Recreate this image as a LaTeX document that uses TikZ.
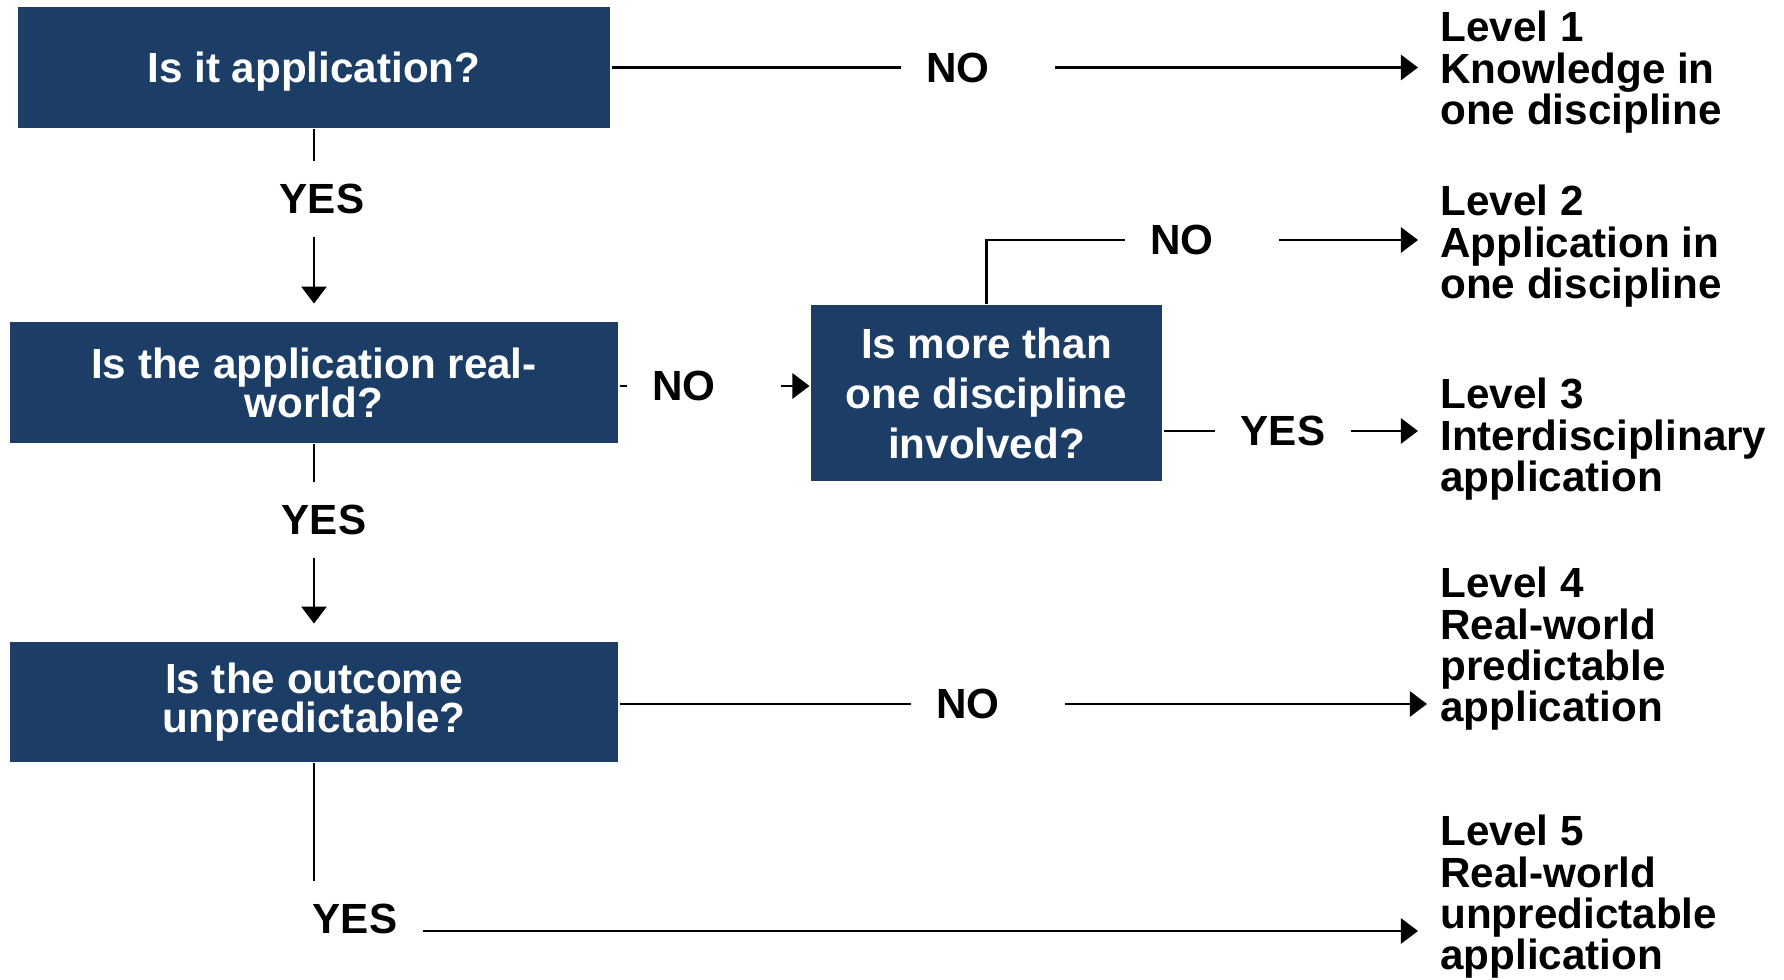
\documentclass[tikz,border=0pt]{standalone}
\usepackage{fontspec}
\setmainfont{Liberation Sans}
\usetikzlibrary{arrows.meta}
\definecolor{boxblue}{RGB}{28,61,102}
\setlength{\lineskiplimit}{-10pt}

\begin{document}
\begin{tikzpicture}
        [
            x=0.01cm, y=-0.01cm,
            line width=0.8pt,
            question/.style={fill=boxblue, text=white, font=\bfseries\fontsize{12}{11.1}\selectfont, align=center, inner sep=0pt},
            answer/.style={font=\bfseries\fontsize{12}{14}\selectfont, inner xsep=0.24cm, inner ysep=0.22cm},
            outcome/.style={font=\bfseries\fontsize{12}{11.7}\selectfont, align=left, anchor=north west, inner sep=0pt},
            flow/.style={-{Triangle[length=0.17cm,width=0.25cm]}},
            gap/.style={shorten <=0.4cm}
        ]

        \useasboundingbox (0,0) rectangle (1784,980);

        % questions
        \node[question, minimum width=5.92cm, minimum height=1.21cm, text depth=0pt] (q1) at (314,67.5) {Is it application?};
        \node[question, minimum width=6.08cm, minimum height=1.21cm] (q2) at (314,382.5) {Is the application real-\\world?};
        \node[question, minimum width=6.08cm, minimum height=1.20cm] (q3) at (314,702) {Is the outcome\\unpredictable?};
        \node[question, minimum width=3.51cm, minimum height=1.76cm, font=\bfseries\fontsize{12}{14.2}\selectfont] (q4) at (986.5,393) {Is more than\\one discipline\\involved?};

        % answers
        \node[answer] (no1) at (958,67.5) {NO};
        \node[answer] (yes1) at (322,199) {YES};
        \node[answer] (no2) at (684,386) {NO};
        \node[answer] (yes2) at (324,520) {YES};
        \node[answer] (no3) at (968,704) {NO};
        \node[answer, text height=0.3cm, text depth=0.24cm] (yes3) at (355,931) {YES};
        \node[answer] (no4) at (1182,240) {NO};
        \node[answer] (yes4) at (1283,431) {YES};

        % levels
        \node[outcome] (lvl1) at (1439,10) {Level 1\\Knowledge in\\one discipline};
        \node[outcome] (lvl2) at (1439,184) {Level 2\\Application in\\one discipline};
        \node[outcome] (lvl3) at (1439,377) {Level 3\\Interdisciplinary\\application};
        \node[outcome] (lvl4) at (1439,566) {Level 4\\Real-world\\predictable\\application};
        \node[outcome] (lvl5) at (1439,814) {Level 5\\Real-world\\unpredictable\\application};

        \draw (q1) -- (no1);
        \draw[flow, gap, shorten >=0.21cm] (no1.east) -- (no1.east -| lvl1.west);
        \draw (q1.south) -- (q1.south |- yes1.north);
        \draw[flow, shorten >=0.17cm] (q1.south |- yes1.south) -- (q2.north);

        \draw (q2.east |- no2.west) -- (no2.west);
        \draw[flow, gap] (no2.east) -- (no2.east -| q4.west);
        \draw (q2.south) -- (q2.south |- yes2.north);
        \draw[flow, shorten >=0.17cm] (q2.south |- yes2.south) -- (q3.north);

        \draw (q3.east |- no3.west) -- (no3.west);
        \draw[flow, gap, shorten >=0.12cm] (no3.east) -- (no3.east -| lvl4.west);
        \draw (q3.south) -- (q3.south |- yes3.north);
        \draw[flow, shorten >=0.21cm] (yes3.east) -- (yes3.east -| lvl5.west);

        \draw (q4.north) |- (no4.west);
        \draw[flow, gap, shorten >=0.21cm] (no4.east) -- (no4.east -| lvl2.west);
        \draw (q4.east |- yes4.west) -- (yes4.west);
        \draw[flow, shorten >=0.21cm] (yes4.east) -- (yes4.east -| lvl3.west);
    \end{tikzpicture}
\end{document}
